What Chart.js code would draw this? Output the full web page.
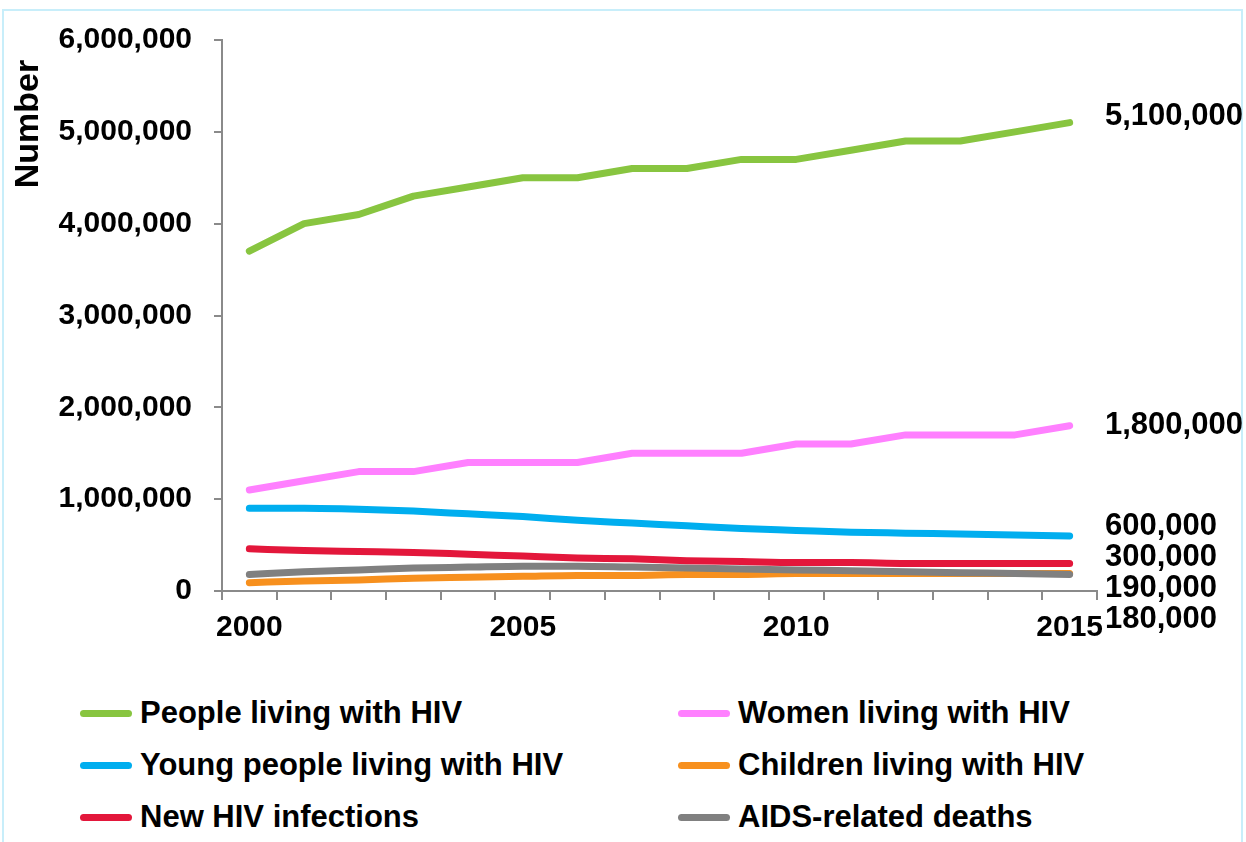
<!DOCTYPE html>
<html>
<head>
<meta charset="utf-8">
<script src="https://cdn.jsdelivr.net/npm/chart.js@4"></script>
<style>
  html, body { margin: 0; padding: 0; background: #fff; }
  body { width: 1246px; height: 842px; position: relative; overflow: hidden; font-family: "Liberation Sans", Arial, sans-serif; }
  .frame { position: absolute; left: 2px; top: 9px; width: 1241px; height: 840px; border: 2px solid #c8eefa; box-sizing: border-box; }
  #wrap { position: absolute; left: 0; top: 0; width: 1246px; height: 660px; }
  #legend { position: absolute; left: 0; top: 695px; width: 1246px; }
  .item { position: absolute; display: flex; align-items: center; font-weight: bold; font-size: 31px; color: #000; white-space: nowrap; }
  .swatch { width: 52px; height: 7px; border-radius: 4px; margin-right: 8px; }
</style>
</head>
<body>
<div class="frame"></div>
<div id="wrap"><canvas id="chart"></canvas></div>
<div id="legend"></div>
<script>
// HIV in eastern and southern Africa, 2000-2015
const years = ['2000','2001','2002','2003','2004','2005','2006','2007','2008','2009','2010','2011','2012','2013','2014','2015'];

const peopleLiving = [3700000, 4000000, 4100000, 4300000, 4400000, 4500000, 4500000, 4600000, 4600000, 4700000, 4700000, 4800000, 4900000, 4900000, 5000000, 5100000];
const womenLiving  = [1100000, 1200000, 1300000, 1300000, 1400000, 1400000, 1400000, 1500000, 1500000, 1500000, 1600000, 1600000, 1700000, 1700000, 1700000, 1800000];
const youngLiving  = [900000, 900000, 890000, 870000, 840000, 810000, 770000, 740000, 710000, 680000, 660000, 640000, 630000, 620000, 610000, 600000];
const childLiving  = [90000, 110000, 120000, 140000, 150000, 160000, 170000, 170000, 180000, 180000, 190000, 190000, 190000, 190000, 190000, 190000];
const newInfections = [460000, 440000, 430000, 420000, 400000, 380000, 360000, 350000, 330000, 320000, 310000, 310000, 300000, 300000, 300000, 300000];
const aidsDeaths   = [180000, 210000, 230000, 250000, 260000, 270000, 270000, 260000, 250000, 240000, 230000, 220000, 210000, 200000, 190000, 180000];

const seriesNames = ['People living with HIV', 'Women living with HIV', 'Young people living with HIV', 'Children living with HIV', 'New HIV infections', 'AIDS-related deaths'];
const seriesColors = ['#88c540', '#ff80ff', '#00aeef', '#f7901e', '#e3173b', '#808080'];
const endLabels = ['5,100,000', '1,800,000', '600,000', '300,000', '190,000', '180,000'];
const yTicks = [0, 1000000, 2000000, 3000000, 4000000, 5000000, 6000000];
const yTitle = 'Number';

const FONT = '"Liberation Sans", Arial, sans-serif';

function makeSet(i, data, tension, order) {
    return {
        label: seriesNames[i],
        data: data,
        borderColor: seriesColors[i],
        backgroundColor: seriesColors[i],
        borderWidth: 7,
        borderCapStyle: 'round',
        borderJoinStyle: 'round',
        pointRadius: 0,
        tension: tension,
        cubicInterpolationMode: tension ? 'monotone' : 'default',
        order: order
    };
}

// end-of-line value labels + axis title (sits near the top, not centred)
const textPlugin = {
    id: 'extraText',
    afterDatasetsDraw(chart) {
        const ctx = chart.ctx;
        const y = chart.scales.y;
        const x0 = chart.chartArea.right + 8;
        ctx.save();
        ctx.font = 'bold 31px ' + FONT;
        ctx.fillStyle = '#000';
        ctx.textBaseline = 'middle';
        ctx.fillText(endLabels[0], x0, y.getPixelForValue(peopleLiving[15]) - 6);
        ctx.fillText(endLabels[1], x0, y.getPixelForValue(womenLiving[15]));
        const base = y.getPixelForValue(youngLiving[15]) - 9;
        for (let i = 2; i < endLabels.length; i++) {
            ctx.fillText(endLabels[i], x0, base + (i - 2) * 31);
        }

        ctx.translate(29, 124);
        ctx.rotate(-Math.PI / 2);
        ctx.textAlign = 'center';
        ctx.font = 'bold 34px ' + FONT;
        ctx.fillText(yTitle, 0, 0);
        ctx.restore();
    }
};

const ctx = document.getElementById('chart');
new Chart(ctx, {
    type: 'line',
    data: {
        labels: years,
        datasets: [
            makeSet(0, peopleLiving, 0, 1),
            makeSet(1, womenLiving, 0, 2),
            makeSet(2, youngLiving, 0.4, 3),
            makeSet(3, childLiving, 0.4, 6),
            makeSet(4, newInfections, 0.4, 4),
            makeSet(5, aidsDeaths, 0.4, 5)
        ]
    },
    options: {
        responsive: true,
        maintainAspectRatio: false,
        animation: false,
        layout: { padding: { top: 28, right: 149, left: 8, bottom: 0 } },
        plugins: {
            legend: { display: false },
            tooltip: { enabled: false }
        },
        scales: {
            x: {
                offset: true,
                grid: { offset: true, drawOnChartArea: false, color: '#8a8a8a', lineWidth: 2, tickLength: 9 },
                border: { color: '#8a8a8a', width: 2 },
                ticks: {
                    autoSkip: false,
                    maxRotation: 0,
                    padding: 10,
                    color: '#000',
                    font: { family: FONT, size: 30, weight: 'bold' },
                    callback: function (v, i) { return i % 5 === 0 ? years[i] : ''; }
                },
                afterFit(scale) { scale.height = 69; }
            },
            y: {
                min: 0,
                max: 6000000,
                afterBuildTicks(scale) { scale.ticks = yTicks.map(v => ({ value: v })); },
                grid: { drawOnChartArea: false, color: '#8a8a8a', lineWidth: 2, tickLength: 8 },
                border: { color: '#8a8a8a', width: 2 },
                ticks: {
                    padding: 22,
                    color: '#000',
                    font: { family: FONT, size: 30, weight: 'bold' },
                    callback: v => v.toLocaleString('en-US')
                },
                afterFit(scale) { scale.width = 214; }
            }
        }
    },
    plugins: [textPlugin]
});

// two-column legend below the chart
const legend = document.getElementById('legend');
const colX = [80, 678];
seriesNames.forEach((name, i) => {
    const item = document.createElement('div');
    item.className = 'item';
    item.style.left = colX[i % 2] + 'px';
    item.style.top = (Math.floor(i / 2) * 52) + 'px';
    item.innerHTML = '<span class="swatch" style="background:' + seriesColors[i] + '"></span>' + name;
    legend.appendChild(item);
});
</script>
</body>
</html>
